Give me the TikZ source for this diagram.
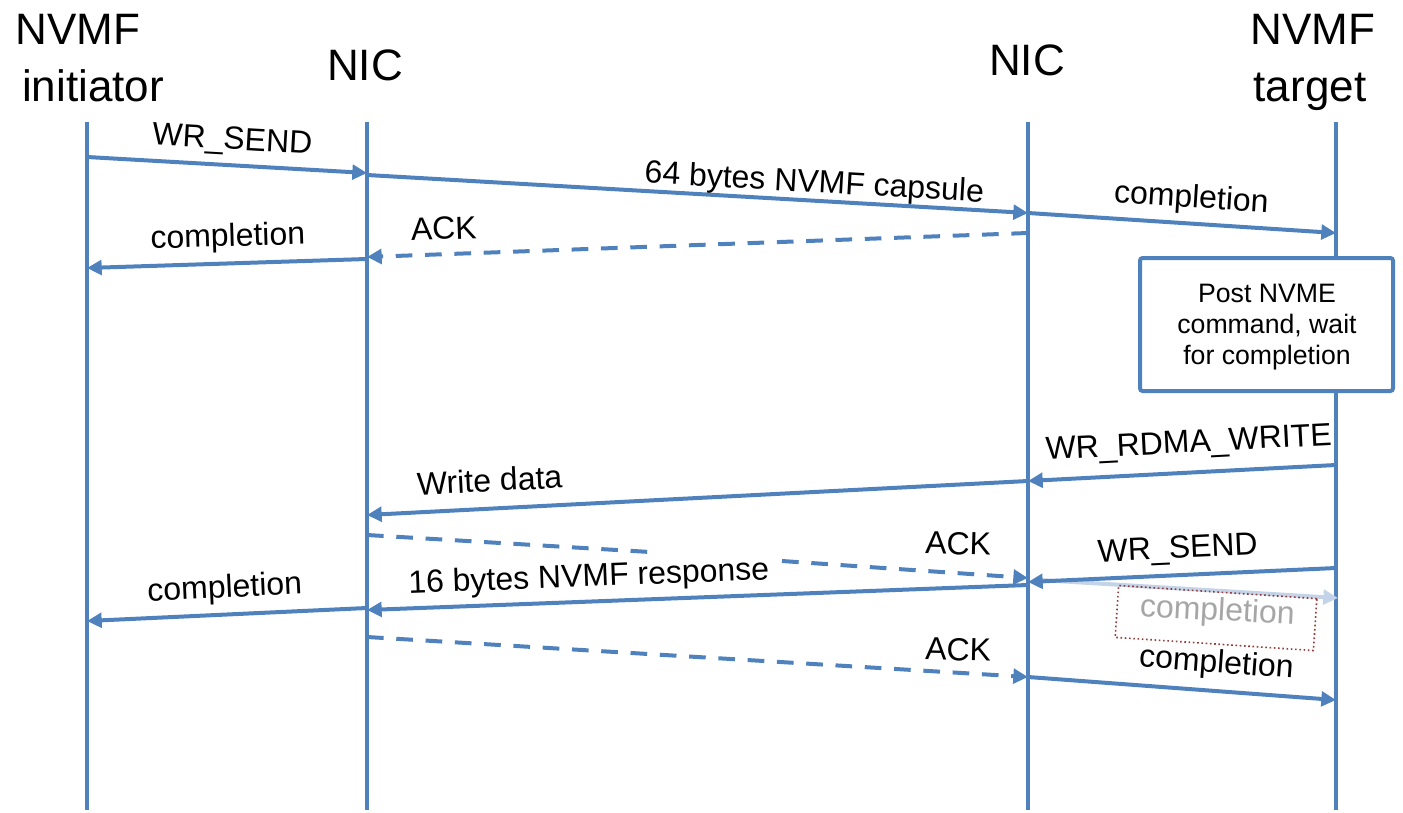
\documentclass[tikz,border=0pt]{standalone}
\usepackage{fontspec}
\setmainfont{Liberation Sans}
\usetikzlibrary{arrows.meta}
\definecolor{lineblue}{HTML}{4F81BD}
\definecolor{fadeblue}{HTML}{C3D3E8}
\definecolor{dotred}{HTML}{953735}
\definecolor{graytext}{HTML}{A6A6A6}
\begin{document}
\begin{tikzpicture}[x=0.75pt,y=-0.75pt,
  msg/.style={draw=lineblue, line width=3pt, -{Triangle[length=11pt,width=11pt]}},
  ackmsg/.style={msg, dash pattern=on 12.5pt off 9.5pt},
  life/.style={draw=lineblue, line width=3.6pt},
  lab/.style={font=\fontsize{24}{28}\selectfont, inner sep=0pt, text height=0.73em, text depth=0.21em},
  ttl/.style={font=\fontsize{33}{40}\selectfont, inner sep=0pt, anchor=base},
  procbox/.style={draw=lineblue, line width=3pt, fill=white, rounded corners=2pt},
]
\useasboundingbox (0,0) rectangle (1403,813);

% titles
\node[ttl] (t1a) at (78,45) {NVMF};
\node[ttl] (t1b) at (93,102) {initiator};
\node[ttl] (t2) at (365,81) {NIC};
\node[ttl] (t3) at (1027,76) {NIC};
\node[ttl] (t4a) at (1313,45) {NVMF};
\node[ttl] (t4b) at (1310,102) {target};

% lifelines
\coordinate (A0) at (87,122);  \coordinate (A1) at (87,810);
\coordinate (B0) at (367,122); \coordinate (B1) at (367,810);
\coordinate (C0) at (1028,122); \coordinate (C1) at (1028,810);
\coordinate (D0) at (1336,122); \coordinate (D1) at (1336,810);
\draw[life] (A0) -- (A1);
\draw[life] (B0) -- (B1);
\draw[life] (C0) -- (C1);
\draw[life] (D0) -- (D1);

% message end points
\coordinate (m1s) at (87,157);   \coordinate (m1e) at (367,173);
\coordinate (m2s) at (367,175);  \coordinate (m2e) at (1028,213);
\coordinate (m3s) at (1028,213); \coordinate (m3e) at (1336,233);
\coordinate (m4s) at (1028,233); \coordinate (m4e) at (367,257);
\coordinate (m5s) at (367,259);  \coordinate (m5e) at (87,268);
\coordinate (m7s) at (1336,465); \coordinate (m7e) at (1028,481);
\coordinate (m8s) at (1028,481); \coordinate (m8e) at (367,515);
\coordinate (m9s) at (367,535);  \coordinate (m9g1) at (650,552);
\coordinate (m9g2) at (782,561); \coordinate (m9e) at (1028,578);
\coordinate (m10s) at (1336,568); \coordinate (m10e) at (1028,582);
\coordinate (m11s) at (1028,585); \coordinate (m11e) at (367,610);
\coordinate (m12s) at (367,608);  \coordinate (m12e) at (87,621);
\coordinate (m13s) at (367,637);  \coordinate (m13e) at (1028,677);
\coordinate (m14s) at (1028,677); \coordinate (m14e) at (1336,700);
\coordinate (mgs) at (1040,580);  \coordinate (mge) at (1338,598);

% processing box
\draw[procbox] (1140,258) rectangle (1393,391);
\node[font=\fontsize{20}{23.5}\selectfont, align=center, inner sep=0pt] (proc) at (1267,327)
  {Post NVME\\command, wait\\for completion};

% faded completion
\draw[draw=fadeblue, line width=3pt, -{Triangle[length=11pt,width=11pt]}] (mgs) -- (mge);
\node[draw=dotred, dotted, line width=1.2pt, minimum width=149pt, minimum height=39pt, rotate=-3.8] (gbox) at (1216,618) {};
\node[lab, text=graytext, rotate=-3] (gl) at (1217,617) {completion};

% messages
\draw[msg] (m1s) -- (m1e);
\draw[msg] (m2s) -- (m2e);
\draw[msg] (m3s) -- (m3e);
\draw[ackmsg] (m4s) -- (m4e);
\draw[msg] (m5s) -- (m5e);
\draw[msg] (m7s) -- (m7e);
\draw[msg] (m8s) -- (m8e);
\draw[draw=lineblue, line width=3pt, dash pattern=on 12.5pt off 9.5pt] (m9s) -- (m9g1);
\draw[ackmsg] (m9g2) -- (m9e);
\draw[msg] (m10s) -- (m10e);
\draw[msg] (m11s) -- (m11e);
\draw[msg] (m12s) -- (m12e);
\draw[ackmsg] (m13s) -- (m13e);
\draw[msg] (m14s) -- (m14e);

% labels
\node[lab, rotate=-3.3] (l1) at (232,146) {WR\_SEND};
\node[lab, rotate=-3.3] (l2) at (814,189) {64 bytes NVMF capsule};
\node[lab, rotate=-3.7] (l3) at (1191,204) {completion};
\node[lab, rotate=2.1] (l4) at (444,236) {ACK};
\node[lab, rotate=1.8] (l5) at (228,243) {completion};
\node[lab, rotate=3.0] (l7) at (1189,449) {WR\_RDMA\_WRITE};
\node[lab, rotate=2.9] (l8) at (490,488) {Write data};
\node[lab, rotate=-1.5] (l9) at (958,551) {ACK};
\node[lab, rotate=2.6] (l10) at (1178,555) {WR\_SEND};
\node[lab, rotate=2.2] (l11) at (589,583) {16 bytes NVMF response};
\node[lab, rotate=2.7] (l12) at (225,594) {completion};
\node[lab, rotate=-1.5] (l13) at (958,657) {ACK};
\node[lab, rotate=-4.3] (l14) at (1216,669) {completion};
\end{tikzpicture}
\end{document}
